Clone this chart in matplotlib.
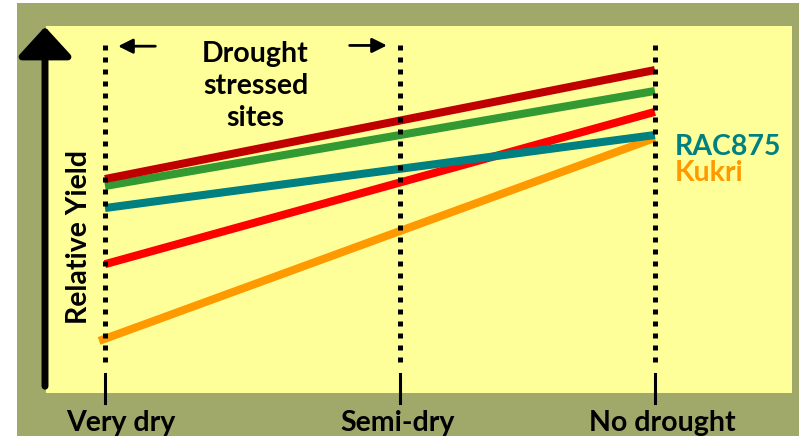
import matplotlib
matplotlib.use("Agg")
import matplotlib.pyplot as plt
from matplotlib.patches import Rectangle, FancyArrowPatch

# site categories and where they sit on the x axis
sites = ["Very dry", "Semi-dry", "No drought"]
site_pos = [0.0, 1.0, 1.864]

# relative yield at the two ends (very dry, no drought) for each line
end_pos = [site_pos[0], site_pos[2]]
dark_red = [5.83, 8.80]
green = [5.64, 8.23]
teal = [5.04, 7.03]
red = [3.51, 7.66]
orange = [1.42, 6.95]

W, H = 799, 440
olive = "#a0a96a"
yellow = "#ffff99"
FS = 20.5

plt.rcParams['font.family'] = ['Lato', 'DejaVu Sans']

fig = plt.figure(figsize=(W / 100, H / 100), dpi=100)
fig.patch.set_facecolor("white")

# olive frame behind the panel
fig.patches.append(Rectangle((17 / W, 4 / H), 1 - 17 / W, 433 / H,
                             transform=fig.transFigure, facecolor=olive,
                             edgecolor="none", zorder=-5))

ax = fig.add_axes([46 / W, (H - 393) / H, (792 - 46) / W, (393 - 26) / H])
ax.set_zorder(1)
ax.set_facecolor(yellow)
ax.set_xlim((46 - 105) / 295, (792 - 105) / 295)
ax.set_ylim(0, 10)
for s in ax.spines.values():
    s.set_visible(False)
ax.set_xticks([])
ax.set_yticks([])

# yield lines
ax.plot([end_pos[0] - 0.02, end_pos[1]], orange, color="#ff9900", lw=5.8, solid_capstyle="butt", zorder=2)
ax.plot(end_pos, red, color="#ff0000", lw=5.8, solid_capstyle="butt", zorder=3)
ax.plot(end_pos, teal, color="#008080", lw=5.8, solid_capstyle="butt", zorder=4)
ax.plot(end_pos, green, color="#339933", lw=5.8, solid_capstyle="butt", zorder=5)
ax.plot(end_pos, dark_red, color="#c00000", lw=5.8, solid_capstyle="butt", zorder=6)

# dotted site markers, ticks and labels
label_dx = [0.055, -0.01, 0.025]
for p, name, dx in zip(site_pos, sites, label_dx):
    ax.plot([p, p], [0.84, 9.62], color="black", lw=3.6,
            linestyle=(0, (1, 1.4)), dash_capstyle="butt", zorder=7)
    ax.plot([p, p], [-0.27, 0.52], color="black", lw=2.2, clip_on=False, zorder=7)
    ax.text(p + dx, -0.82, name, ha="center", va="center", fontsize=FS,
            fontweight="bold", color="black", clip_on=False)

# drought stressed annotation
ax.text(0.51, 8.37, "Drought\nstressed\nsites", ha="center", va="center",
        fontsize=FS, fontweight="bold", linespacing=1.3)
ax.annotate("", xy=(0.035, 9.45), xytext=(0.18, 9.45),
            arrowprops=dict(arrowstyle="-|>", color="black", lw=2,
                            mutation_scale=22))
ax.annotate("", xy=(0.965, 9.47), xytext=(0.82, 9.47),
            arrowprops=dict(arrowstyle="-|>", color="black", lw=2,
                            mutation_scale=22))

# variety labels
ax.text(1.93, 6.70, "RAC875", color="#008080", fontsize=FS, fontweight="bold",
        ha="left", va="center")
ax.text(1.93, 5.99, "Kukri", color="#ff9900", fontsize=FS, fontweight="bold",
        ha="left", va="center")

# y axis arrow
fig.add_artist(FancyArrowPatch(
    (45 / W, (H - 389) / H), (45 / W, (H - 24) / H),
    transform=fig.transFigure, arrowstyle="-|>,head_length=0.6,head_width=0.55",
    mutation_scale=30, color="black", lw=5, zorder=10))
fig.text(79 / W, (H - 237) / H, "Relative Yield", rotation=90, ha="center",
         va="center", fontsize=FS, fontweight="bold", zorder=10)

fig.savefig("out.png", dpi=100, facecolor=fig.get_facecolor())
